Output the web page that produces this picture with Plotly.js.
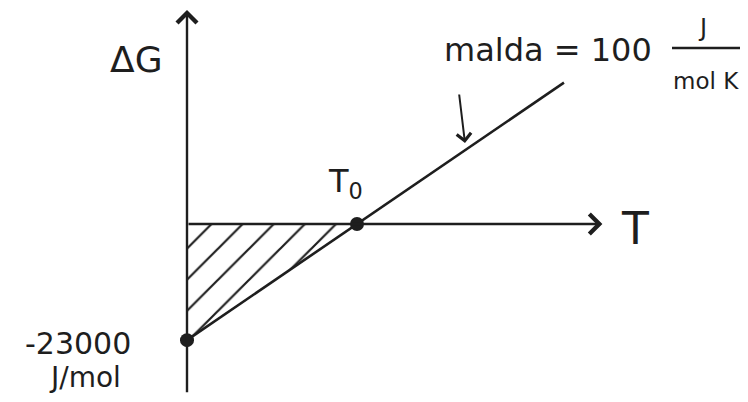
<!DOCTYPE html>
<html>
<head>
<meta charset="utf-8">
<script src="https://cdn.plot.ly/plotly-3.0.1.min.js"></script>
<style>html,body{margin:0;padding:0;background:#fff;}#chart{width:748px;height:402px;}</style>
</head>
<body>
<div id="chart"></div>
<script>
// Data (T in K, ΔG in J/mol)
var lineT = [0, 230, 510];
var lineDG = [-23000, 0, 28000];
var pointT = [0, 230];
var pointDG = [-23000, 0];
var hatchT = [0, 0, 230, 0];
var hatchDG = [0, -23000, 0, 0];
var axisTopDG = 42400, axisBottomDG = -33600, axisEndT = 562;
var interceptLabel = ["-23000", "J/mol"];
var slopeLabel = ["malda = 100", "J", "mol K"];

var ink = "#1e1e1e";
var fnt = "DejaVu Sans, Liberation Sans, sans-serif";

var traces = [
  {x: hatchT, y: hatchDG, mode: "lines", fill: "toself", fillcolor: "rgba(0,0,0,0)",
   fillpattern: {shape: "/", size: 22, solidity: 0.1, fgcolor: ink, bgcolor: "rgba(0,0,0,0)"},
   line: {width: 0}, hoverinfo: "skip"},
  {x: lineT, y: lineDG, mode: "lines", line: {color: ink, width: 2.6}},
  {x: pointT, y: pointDG, mode: "markers", marker: {color: ink, size: 14}, cliponaxis: false}
];

function P(px, py){ return {x: px/748, y: 1 - py/402}; }
function txt(s, px, py, size, extra){
  var p = P(px, py);
  var a = {xref: "paper", yref: "paper", x: p.x, y: p.y, text: s, showarrow: false,
    xanchor: "center", yanchor: "middle", font: {family: fnt, size: size, color: ink}};
  for (var k in (extra||{})) a[k] = extra[k];
  return a;
}

var annotations = [
  {x: 0, y: axisTopDG, ax: 0, ay: axisBottomDG, xref: "x", yref: "y", axref: "x", ayref: "y",
   text: "", showarrow: true, arrowhead: 4, arrowsize: 1.6, arrowwidth: 2.4, arrowcolor: ink, standoff: 0},
  {x: axisEndT, y: 0, ax: 0, ay: 0, xref: "x", yref: "y", axref: "x", ayref: "y",
   text: "", showarrow: true, arrowhead: 4, arrowsize: 1.6, arrowwidth: 2.4, arrowcolor: ink, standoff: 0},
  txt("ΔG", 136, 60, 36),
  txt("T", 635, 228, 44),
  txt("T<sub>0</sub>", 345, 183, 32),
  txt(interceptLabel[0], 78, 343, 30),
  txt(interceptLabel[1], 85, 377, 28),
  txt(slopeLabel[0], 548, 50, 32),
  txt(slopeLabel[1], 702, 28, 24),
  txt(slopeLabel[2], 706, 81, 23),
  {xref: "paper", yref: "paper", x: 465/748, y: 1 - 143/402, ax: -6, ay: -50,
   text: "", showarrow: true, arrowhead: 4, arrowsize: 1.4, arrowwidth: 2, arrowcolor: ink, standoff: 0}
];

var shapes = [
  {type: "line", xref: "paper", yref: "paper", x0: 672/748, x1: 740/748, y0: 1 - 48/402, y1: 1 - 48/402,
   line: {color: ink, width: 2.4}}
];

var layout = {
  width: 748, height: 402,
  margin: {l: 0, r: 0, t: 0, b: 0},
  paper_bgcolor: "#fff", plot_bgcolor: "#fff",
  showlegend: false,
  xaxis: {range: [-253, 759], visible: false, fixedrange: true},
  yaxis: {range: [-35248, 44356], visible: false, fixedrange: true},
  annotations: annotations,
  shapes: shapes
};

Plotly.newPlot("chart", traces, layout, {displayModeBar: false, staticPlot: true});
</script>
</body>
</html>
